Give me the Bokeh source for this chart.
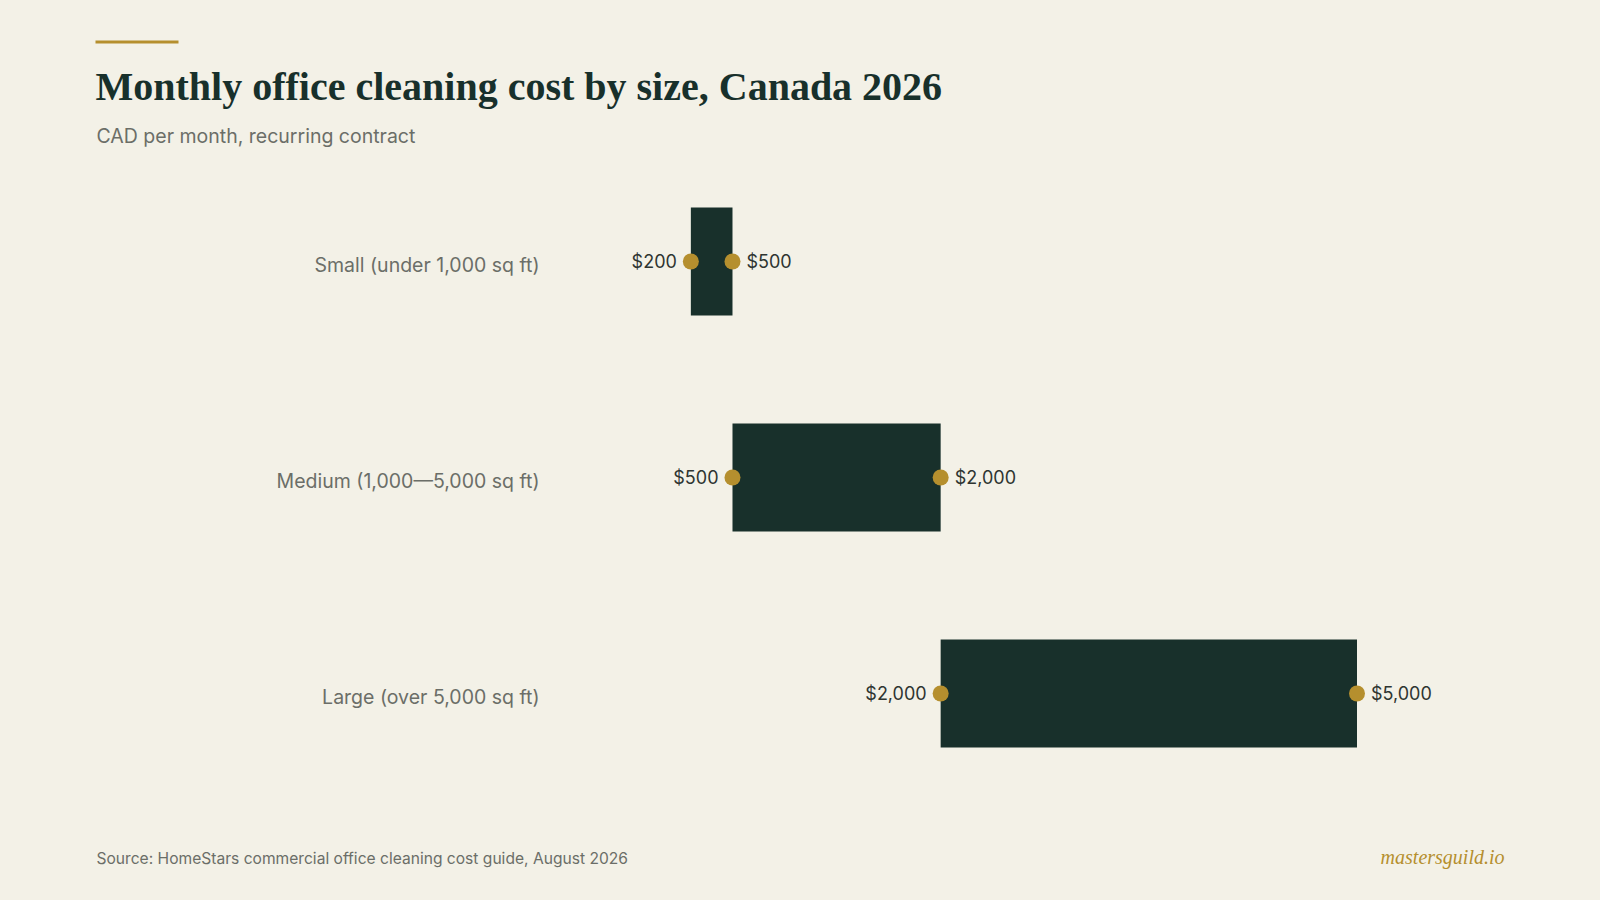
from jinja2 import Template
from bokeh.plotting import figure
from bokeh.models import Range1d, Label, BoxAnnotation, ColumnDataSource
from bokeh.core.properties import value
from bokeh.embed import file_html
from bokeh.resources import INLINE

# ---- data ----
categories = ["Small (under 1,000 sq ft)", "Medium (1,000\u20145,000 sq ft)", "Large (over 5,000 sq ft)"]
low_values = [200, 500, 2000]
high_values = [500, 2000, 5000]

title_text = "Monthly office cleaning cost by size, Canada 2026"
subtitle_text = "CAD per month, recurring contract"
source_text = "Source: HomeStars commercial office cleaning cost guide, August 2026"
brand_text = "mastersguild.io"

# ---- style / layout ----
BG = "#f3f1e7"
BAR = "#18302b"
GOLD = "#b58f2e"
DARK = "#18302b"
GREY = "#6b6e68"
VAL = "#2e3531"
SANS = "Inter"
SERIF = "Liberation Serif"

W, H = 1584, 884
X0 = 654.6          # canvas x of the value 0
PX_PER_CAD = 0.13878
ROW_PX = 216.0      # vertical distance between rows
BOTTOM_ROW_FROM_BOTTOM = 199.0

n = len(categories)
src = ColumnDataSource(dict(
    cat=categories,
    ypos=list(range(n))[::-1],
    low=low_values,
    high=high_values,
    low_label=[f"${v:,}" for v in low_values],
    high_label=[f"${v:,}" for v in high_values],
    anchor=[0] * n,
))

y0 = -BOTTOM_ROW_FROM_BOTTOM / ROW_PX
p = figure(
    width=W, height=H,
    x_range=Range1d(-X0 / PX_PER_CAD, (W - X0) / PX_PER_CAD),
    y_range=Range1d(y0, y0 + H / ROW_PX),
    x_axis_location=None, y_axis_location=None,
    output_backend="svg", toolbar_location=None,
    min_border=0, min_border_left=0, min_border_right=0, min_border_top=0, min_border_bottom=0,
    background_fill_color=BG, border_fill_color=BG, outline_line_color=None,
)
p.grid.visible = False

p.hbar(y="ypos", left="low", right="high", height=0.5, fill_color=BAR, line_color=None, source=src)
p.scatter(x="low", y="ypos", size=16, fill_color=GOLD, line_color=None, source=src)
p.scatter(x="high", y="ypos", size=16, fill_color=GOLD, line_color=None, source=src)
p.text(x="low", y="ypos", text="low_label", x_offset=-14, text_align="right", text_baseline="middle",
       text_font=value(SANS), text_font_size="18px", text_color=VAL, source=src)
p.text(x="high", y="ypos", text="high_label", x_offset=14, text_align="left", text_baseline="middle",
       text_font=value(SANS), text_font_size="18px", text_color=VAL, source=src)
# category labels (act as the y axis)
p.text(x="anchor", y="ypos", text="cat", x_offset=-(X0 - 531), y_offset=3, text_align="right",
       text_baseline="middle", text_font=value(SANS), text_font_size="19.5px", text_color=GREY, source=src)

# header / footer (screen units: from frame bottom-left, frame == canvas)
p.add_layout(BoxAnnotation(left=87, right=170, top=H - 32, bottom=H - 35,
                           left_units="screen", right_units="screen", top_units="screen", bottom_units="screen",
                           fill_color=GOLD, fill_alpha=1, line_color=None))
p.add_layout(Label(x=87, y=H - 78, x_units="screen", y_units="screen", text=title_text,
                   text_font=SERIF, text_font_style="bold", text_font_size="40px", text_color=DARK,
                   text_baseline="alphabetic"))
p.add_layout(Label(x=88, y=H - 127, x_units="screen", y_units="screen", text=subtitle_text,
                   text_font=SANS, text_font_size="19.5px", text_color=GREY, text_baseline="alphabetic"))
p.add_layout(Label(x=88, y=H - 850, x_units="screen", y_units="screen", text=source_text,
                   text_font=SANS, text_font_size="15.6px", text_color=GREY, text_baseline="alphabetic"))
p.add_layout(Label(x=1496, y=H - 848, x_units="screen", y_units="screen", text=brand_text,
                   text_font=SERIF, text_font_style="italic", text_font_size="20px", text_color=GOLD,
                   text_align="right", text_baseline="alphabetic"))

page = Template("""<!DOCTYPE html>
<html lang="en">
<head>
<meta charset="utf-8">
<title>{{ title }}</title>
<style>html, body { background: #f3f1e7; }</style>
{{ bokeh_css }}
{{ bokeh_js }}
</head>
<body>
{{ plot_div }}
{{ plot_script }}
</body>
</html>""")

open("out.html", "w").write(file_html(p, INLINE, title="Monthly office cleaning cost", template=page))
